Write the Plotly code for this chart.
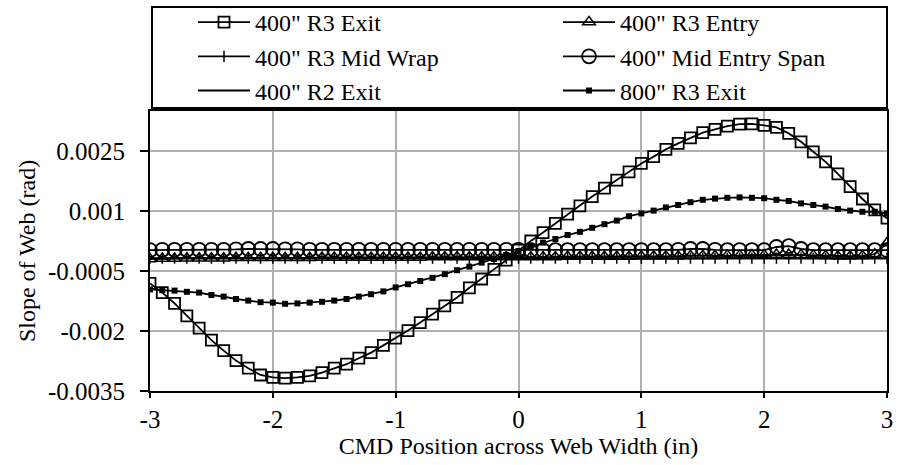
import plotly.graph_objects as go

# CMD positions across the web (in)
x_pos = [-3.0, -2.9, -2.8, -2.7, -2.6, -2.5, -2.4, -2.3, -2.2, -2.1,
         -2.0, -1.9, -1.8, -1.7, -1.6, -1.5, -1.4, -1.3, -1.2, -1.1,
         -1.0, -0.9, -0.8, -0.7, -0.6, -0.5, -0.4, -0.3, -0.2, -0.1,
         0.0, 0.1, 0.2, 0.3, 0.4, 0.5, 0.6, 0.7, 0.8, 0.9,
         1.0, 1.1, 1.2, 1.3, 1.4, 1.5, 1.6, 1.7, 1.8, 1.9,
         2.0, 2.1, 2.2, 2.3, 2.4, 2.5, 2.6, 2.7, 2.8, 2.9, 3.0]

# slope of web (rad)
r3_exit_400 = [-0.00081, -0.00104, -0.00131, -0.00162, -0.00193, -0.00223, -0.00249, -0.00274, -0.00293, -0.00310,
               -0.00316, -0.00318, -0.00316, -0.00312, -0.00304, -0.00293, -0.00283, -0.00268, -0.00254, -0.00236,
               -0.00218, -0.00199, -0.00179, -0.00158, -0.00137, -0.00116, -0.00092, -0.00070, -0.00046, -0.00023,
               0.00002, 0.00025, 0.00046, 0.00069, 0.00092, 0.00113, 0.00136, 0.00157, 0.00177, 0.00198,
               0.00219, 0.00236, 0.00254, 0.00269, 0.00283, 0.00296, 0.00304, 0.00312, 0.00317, 0.00318,
               0.00314, 0.00309, 0.00294, 0.00273, 0.00248, 0.00223, 0.00193, 0.00161, 0.00130, 0.00103, 0.00082]

r3_entry_400 = [-0.00020, -0.00019, -0.00019, -0.00018, -0.00018, -0.00018, -0.00018, -0.00017, -0.00017, -0.00017,
                -0.00017, -0.00017, -0.00017, -0.00017, -0.00016, -0.00016, -0.00016, -0.00016, -0.00016, -0.00016,
                -0.00016, -0.00016, -0.00016, -0.00015, -0.00015, -0.00015, -0.00015, -0.00015, -0.00015, -0.00015,
                -0.00015, -0.00015, -0.00015, -0.00015, -0.00014, -0.00014, -0.00014, -0.00014, -0.00014, -0.00014,
                -0.00013, -0.00013, -0.00013, -0.00013, -0.00012, -0.00012, -0.00012, -0.00011, -0.00011, -0.00010,
                -0.00010, -0.00009, -0.00009, -0.00010, -0.00011, -0.00012, -0.00013, -0.00013, -0.00012, -0.00008, 0.00020]

r3_mid_wrap_400 = [-0.00018, -0.00018, -0.00018, -0.00018, -0.00018, -0.00018, -0.00018, -0.00018, -0.00018, -0.00018,
                   -0.00018, -0.00018, -0.00018, -0.00018, -0.00018, -0.00018, -0.00018, -0.00018, -0.00018, -0.00018,
                   -0.00018, -0.00018, -0.00018, -0.00018, -0.00018, -0.00018, -0.00018, -0.00018, -0.00018, -0.00018,
                   -0.00018, -0.00018, -0.00018, -0.00018, -0.00018, -0.00018, -0.00018, -0.00018, -0.00018, -0.00018,
                   -0.00018, -0.00018, -0.00018, -0.00018, -0.00018, -0.00018, -0.00018, -0.00018, -0.00018, -0.00018,
                   -0.00018, -0.00018, -0.00018, -0.00018, -0.00018, -0.00018, -0.00018, -0.00018, -0.00018, -0.00018, -0.00018]

mid_entry_span_400 = [0.00002, 0.00003, 0.00003, 0.00003, 0.00003, 0.00003, 0.00003, 0.00004, 0.00005, 0.00005,
                      0.00005, 0.00004, 0.00004, 0.00003, 0.00003, 0.00003, 0.00003, 0.00003, 0.00003, 0.00003,
                      0.00003, 0.00003, 0.00003, 0.00003, 0.00003, 0.00003, 0.00003, 0.00003, 0.00003, 0.00003,
                      0.00003, 0.00002, 0.00002, 0.00002, 0.00002, 0.00002, 0.00002, 0.00002, 0.00002, 0.00002,
                      0.00002, 0.00002, 0.00002, 0.00003, 0.00005, 0.00005, 0.00003, 0.00002, 0.00002, 0.00002,
                      0.00002, 0.00010, 0.00012, 0.00005, 0.00002, 0.00002, 0.00002, 0.00002, 0.00002, 0.00002, 0.00002]

r2_exit_400 = [-0.00019, -0.00019, -0.00019, -0.00019, -0.00019, -0.00019, -0.00019, -0.00019, -0.00019, -0.00019,
               -0.00019, -0.00019, -0.00019, -0.00019, -0.00019, -0.00019, -0.00019, -0.00019, -0.00019, -0.00019,
               -0.00019, -0.00019, -0.00019, -0.00019, -0.00019, -0.00019, -0.00019, -0.00019, -0.00019, -0.00019,
               -0.00019, -0.00019, -0.00019, -0.00019, -0.00019, -0.00019, -0.00019, -0.00019, -0.00019, -0.00019,
               -0.00019, -0.00019, -0.00019, -0.00019, -0.00019, -0.00019, -0.00019, -0.00019, -0.00019, -0.00019,
               -0.00019, -0.00019, -0.00019, -0.00019, -0.00019, -0.00019, -0.00019, -0.00019, -0.00019, -0.00019, -0.00019]

r3_exit_800 = [-0.00096, -0.00098, -0.00099, -0.00102, -0.00104, -0.00110, -0.00114, -0.00120, -0.00124, -0.00128,
               -0.00129, -0.00132, -0.00131, -0.00129, -0.00127, -0.00124, -0.00120, -0.00114, -0.00108, -0.00101,
               -0.00091, -0.00083, -0.00075, -0.00067, -0.00058, -0.00048, -0.00039, -0.00029, -0.00020, -0.00010,
               0.00000, 0.00011, 0.00021, 0.00030, 0.00040, 0.00048, 0.00058, 0.00067, 0.00076, 0.00087,
               0.00094, 0.00101, 0.00109, 0.00115, 0.00122, 0.00128, 0.00131, 0.00133, 0.00134, 0.00133,
               0.00132, 0.00128, 0.00125, 0.00119, 0.00115, 0.00111, 0.00105, 0.00101, 0.00098, 0.00098, 0.00094]

x_ticks = [-3, -2, -1, 0, 1, 2, 3]
x_tick_text = ["-3", "-2", "-1", "0", "1", "2", "3"]
y_ticks = [-0.0035, -0.002, -0.0005, 0.001, 0.0025]
y_tick_text = ["-0.0035", "-0.002", "-0.0005", "0.001", "0.0025"]

FONT = "Liberation Serif"
INK = "black"

# (name, values, marker style, which legend column)
series = [
    ('400" R3 Exit', r3_exit_400, dict(symbol="square-open", size=11, color=INK, line=dict(width=1.8, color=INK)), "legend"),
    ('400" R3 Entry', r3_entry_400, dict(symbol="triangle-up-open", size=11, color=INK, line=dict(width=1.5, color=INK)), "legend2"),
    ('400" R3 Mid Wrap', r3_mid_wrap_400, dict(symbol="line-ns-open", size=8, color=INK, line=dict(width=1.5, color=INK)), "legend"),
    ('400" Mid Entry Span', mid_entry_span_400, dict(symbol="circle-open", size=14, color=INK, line=dict(width=1.8, color=INK)), "legend2"),
    ('400" R2 Exit', r2_exit_400, None, "legend"),
    ('800" R3 Exit', r3_exit_800, dict(symbol="square", size=6, color=INK, line=dict(width=0, color=INK)), "legend2"),
]

fig = go.Figure()
for name, vals, marker, leg in series:
    if marker is None:
        fig.add_trace(go.Scatter(x=x_pos, y=vals, name=name, mode="lines", legend=leg,
                                 line=dict(color=INK, width=1.8)))
    else:
        fig.add_trace(go.Scatter(x=x_pos, y=vals, name=name, mode="lines+markers", legend=leg,
                                 line=dict(color=INK, width=1.8), marker=marker))

axis_common = dict(
    showline=True, linecolor=INK, linewidth=2, mirror=True,
    showgrid=True, gridcolor="#b0b0b0", gridwidth=2,
    ticks="outside", tickwidth=2, tickcolor=INK,
    zeroline=False, tickfont=dict(family=FONT, size=25, color=INK),
)

fig.update_xaxes(range=[-3, 3], tickvals=x_ticks, ticktext=x_tick_text, ticklen=5,
                 title=dict(text="CMD Position across Web Width (in)", standoff=0,
                            font=dict(family=FONT, size=24, color=INK)),
                 **axis_common)
fig.update_yaxes(range=[-0.0035, 0.0035], tickvals=y_ticks, ticktext=y_tick_text, ticklen=8,
                 ticklabelstandoff=10,
                 title=dict(text="Slope of Web (rad)", standoff=6,
                            font=dict(family=FONT, size=24, color=INK)),
                 **axis_common)

# frame around the legend
fig.add_shape(type="rect", xref="paper", yref="paper",
              x0=(152 - 150) / 737, x1=1.0, y0=(391 - 108) / 280, y1=(391 - 7) / 280,
              line=dict(color=INK, width=2), fillcolor="rgba(0,0,0,0)", layer="above")

leg_common = dict(orientation="v", yanchor="top", y=(391 - 0) / 280, xanchor="left",
                  itemwidth=52, bgcolor="rgba(0,0,0,0)", borderwidth=0, tracegroupgap=0,
                  font=dict(family=FONT, size=24, color=INK))

fig.update_layout(
    width=903, height=465,
    margin=dict(l=150, r=16, t=111, b=74, autoexpand=False),
    paper_bgcolor="white", plot_bgcolor="white",
    font=dict(family=FONT, size=24, color=INK),
    showlegend=True,
    legend=dict(x=(193 - 150) / 737, **leg_common),
    legend2=dict(x=(558 - 150) / 737, **leg_common),
)

fig.write_html("out.html")
